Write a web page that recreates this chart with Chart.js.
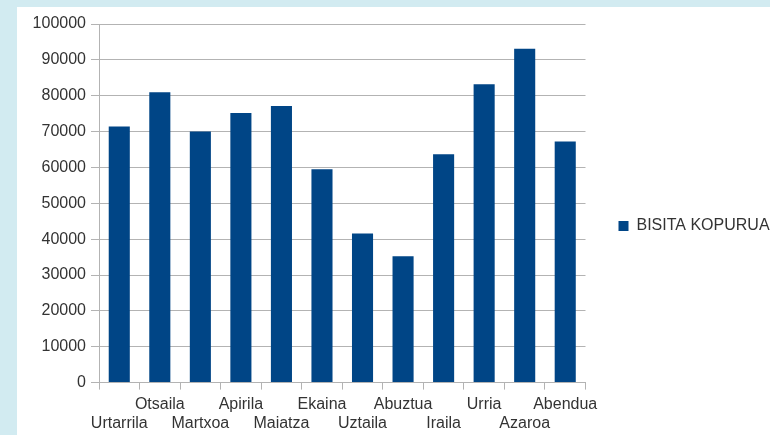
<!DOCTYPE html>
<html>
<head>
<meta charset="utf-8">
<script src="https://cdn.jsdelivr.net/npm/chart.js@4"></script>
<style>
html, body { margin:0; padding:0; width:770px; height:435px; overflow:hidden; background:#d2ebf1; }
#panel { position:absolute; left:17px; top:7px; width:800px; height:440px; background:#ffffff; }
#panel canvas { display:block; }
</style>
</head>
<body>
<div id="panel"><canvas id="c" width="758" height="431"></canvas></div>
<script>
const categories = ['Urtarrila','Otsaila','Martxoa','Apirila','Maiatza','Ekaina','Uztaila','Abuztua','Iraila','Urria','Azaroa','Abendua'];
const seriesName = 'BISITA KOPURUA';
const visits = [71400, 81000, 70000, 75200, 77150, 59500, 41600, 35200, 63700, 83200, 93100, 67200];
const yMin = 0, yMax = 100000, yStep = 10000;

const GRID = '#b3b3b3';
const TEXT = '#333333';
const BAR = '#004586';

new Chart(document.getElementById('c'), {
  type: 'bar',
  data: {
    labels: categories,
    datasets: [{
      label: seriesName,
      data: visits,
      backgroundColor: BAR,
      borderWidth: 0,
      barPercentage: 0.52,
      categoryPercentage: 1.0
    }]
  },
  options: {
    responsive: false,
    animation: false,
    layout: { padding: { top: 7, bottom: 0, left: 0, right: 0 } },
    plugins: {
      tooltip: { enabled: false },
      legend: {
        position: 'right',
        labels: {
          color: TEXT,
          font: { family: 'Liberation Sans', size: 16 },
          boxWidth: 10, boxHeight: 10,
          padding: 33
        }
      }
    },
    scales: {
      x: {
        offset: true,
        grid: {
          offset: true,
          drawOnChartArea: true,
          color: (ctx) => ctx.index === categories.length ? GRID : 'rgba(0,0,0,0)',
          tickColor: GRID,
          tickLength: 7
        },
        border: { display: true, color: GRID },
        ticks: {
          autoSkip: false, maxRotation: 0, minRotation: 0,
          color: TEXT, padding: 5,
          font: { family: 'Liberation Sans', size: 16, lineHeight: 1.2 },
          callback: (v, i) => i % 2 === 0 ? ['', categories[i]] : [categories[i], '']
        }
      },
      topGap: {
        type: 'category',
        axis: 'x',
        position: 'top',
        display: true,
        afterFit: (s) => { s.height = 10; },
        grid: { display: false },
        border: { display: false },
        ticks: { display: false }
      },
      y: {
        min: yMin, max: yMax,
        afterFit: (s) => { s.width = 82; },
        grid: { color: GRID, tickColor: GRID, tickLength: 8 },
        border: { display: true, color: GRID },
        ticks: {
          stepSize: yStep, color: TEXT, padding: 5,
          font: { family: 'Liberation Sans', size: 16 },
          callback: (v) => String(v)
        }
      }
    }
  }
});
</script>
</body>
</html>
